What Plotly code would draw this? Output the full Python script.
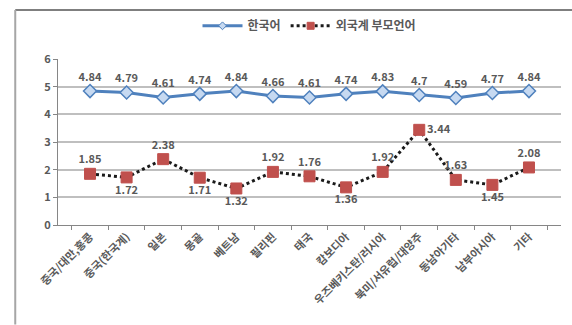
import plotly.graph_objects as go

categories = ["중국/대만,홍콩", "중국(한국계)", "일본", "몽골", "베트남", "필리핀", "태국",
              "캄보디아", "우즈베키스탄/러시아", "북미/서유럽/대양주", "동남아기타", "남부아시아", "기타"]
korean = [4.84, 4.79, 4.61, 4.74, 4.84, 4.66, 4.61, 4.74, 4.83, 4.7, 4.59, 4.77, 4.84]
foreign = [1.85, 1.72, 2.38, 1.71, 1.32, 1.92, 1.76, 1.36, 1.92, 3.44, 1.63, 1.45, 2.08]
foreign_pos = ["top center", "bottom center", "top center", "bottom center", "bottom center",
               "top center", "top center", "bottom center", "top center", "middle right",
               "top center", "bottom center", "top center"]
y_ticks = [0, 1, 2, 3, 4, 5, 6]

FONT = "Noto Sans CJK KR"
TXT = "#595959"
BLUE = "#4F81BD"
RED = "#C0504D"

fig = go.Figure()
fig.add_trace(go.Scatter(
    x=categories, y=korean, name="한국어", mode="lines+markers+text", showlegend=False,
    line=dict(color=BLUE, width=3),
    marker=dict(symbol="diamond", size=10, color="#C6D9F1", line=dict(color=BLUE, width=1.5)),
    text=[str(v) for v in korean], textposition="top center",
    textfont=dict(family=FONT, size=11, color=TXT, weight="bold"),
))
fig.add_trace(go.Scatter(
    x=categories, y=foreign, name="외국계 부모언어", mode="lines+markers+text", showlegend=False,
    line=dict(color="#1a1a1a", width=3, dash="dot"),
    marker=dict(symbol="square", size=11, color=RED, line=dict(color=RED, width=1)),
    text=[str(v) for v in foreign], textposition=foreign_pos,
    textfont=dict(family=FONT, size=11, color=TXT, weight="bold"),
))
# legend entries with smaller symbols, as in the reference
fig.add_trace(go.Scatter(
    x=[None], y=[None], name="한국어", mode="lines+markers",
    line=dict(color=BLUE, width=3),
    marker=dict(symbol="diamond", size=6, color="#C6D9F1", line=dict(color=BLUE, width=1)),
))
fig.add_trace(go.Scatter(
    x=[None], y=[None], name="외국계 부모언어", mode="lines+markers",
    line=dict(color="#1a1a1a", width=3, dash="dot"),
    marker=dict(symbol="square", size=7, color=RED, line=dict(color=RED, width=1)),
))

fig.update_layout(
    width=572, height=325,
    margin=dict(l=58, r=11, t=55, b=100),
    paper_bgcolor="white", plot_bgcolor="white",
    font=dict(family=FONT, color=TXT, size=11),
    showlegend=True,
    legend=dict(orientation="h", x=0.5, xanchor="center", y=1.2, yanchor="middle",
                font=dict(family=FONT, size=12, color=TXT, weight="bold"), itemwidth=40),
    xaxis=dict(type="category", tickangle=-45, showgrid=False,
               showline=True, linecolor="#868686", linewidth=1,
               ticks="outside", tickson="boundaries", ticklen=4, tickcolor="#868686",
               tickfont=dict(family=FONT, size=11, color=TXT, weight="bold")),
    yaxis=dict(range=[0, 6], tickvals=y_ticks, showgrid=True, gridcolor="#BFBFBF", gridwidth=1.5,
               showline=True, linecolor="#868686", linewidth=1,
               ticks="outside", ticklen=4, tickcolor="#868686", zeroline=False,
               tickfont=dict(family=FONT, size=11, color=TXT, weight="bold")),
    shapes=[
        dict(type="line", xref="paper", yref="paper", x0=-0.085, x1=1.03, y0=1.295, y1=1.295,
             line=dict(color="#7F7F7F", width=2)),
        dict(type="line", xref="paper", yref="paper", x0=-0.085, x1=-0.085, y0=1.295, y1=-0.6,
             line=dict(color="#A6A6A6", width=2)),
    ],
)

fig.write_html("out.html")
